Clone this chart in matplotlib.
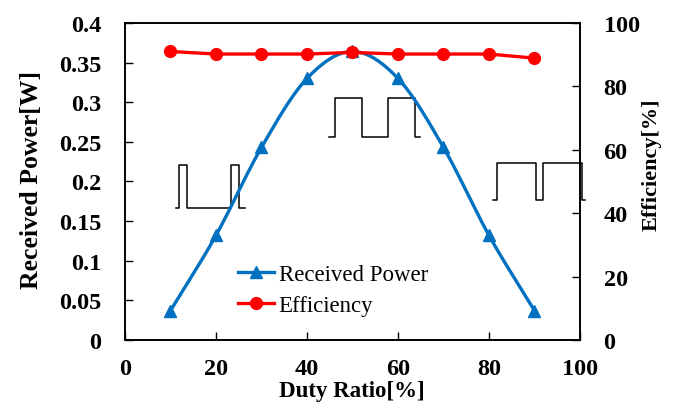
import numpy as np
import matplotlib.pyplot as plt

plt.rcParams['font.family'] = ['Liberation Serif', 'DejaVu Serif']

# data
duty = [10, 20, 30, 40, 50, 60, 70, 80, 90]
power = [0.037, 0.132, 0.243, 0.330, 0.364, 0.330, 0.243, 0.132, 0.037]
eff = [91.0, 90.2, 90.2, 90.2, 90.7, 90.2, 90.2, 90.2, 88.9]

# little PWM sketches (duty ratio ~20 %, 50 %, 80 %)
pwm_x = [
    [11.2, 11.9, 11.9, 13.6, 13.6, 23.3, 23.3, 25.1, 25.1, 26.4],
    [44.8, 46.2, 46.2, 52.1, 52.1, 57.8, 57.8, 63.7, 63.7, 64.8],
    [80.9, 81.8, 81.8, 90.3, 90.3, 91.9, 91.9, 100.4, 100.4, 101.0],
]
pwm_lo = [0.1666, 0.256, 0.1767]
pwm_hi = [0.2208, 0.305, 0.2233]


def smooth(x, y, n=20):
    # catmull-rom curve through the points, like the excel "smoothed line"
    x = np.asarray(x, float)
    y = np.asarray(y, float)
    px = np.concatenate([[2 * x[0] - x[1]], x, [2 * x[-1] - x[-2]]])
    py = np.concatenate([[2 * y[0] - y[1]], y, [2 * y[-1] - y[-2]]])
    xs, ys = [], []
    t = np.linspace(0, 1, n)
    for i in range(1, len(px) - 2):
        for p, out in ((px, xs), (py, ys)):
            p0, p1, p2, p3 = p[i - 1], p[i], p[i + 1], p[i + 2]
            out.extend(0.5 * (2 * p1 + (-p0 + p2) * t + (2 * p0 - 5 * p1 + 4 * p2 - p3) * t ** 2
                              + (-p0 + 3 * p1 - 3 * p2 + p3) * t ** 3))
    return xs, ys


fig = plt.figure(figsize=(6.77, 4.06), dpi=100)
ax = fig.add_axes([0.1846, 0.160, 0.6721, 0.781])
ax2 = ax.twinx()

blue = '#0070C0'
red = '#FF0000'

sx, sy = smooth(duty, power)
ax.plot(sx, sy, color=blue, lw=2.4)
ax.plot(duty, power, ls='none', marker='^', ms=8, color=blue)
l1, = ax.plot([], [], color=blue, lw=2.4, marker='^', ms=8, label='Received Power')

for xs, lo, hi in zip(pwm_x, pwm_lo, pwm_hi):
    lev = [lo, lo, hi, hi, lo, lo, hi, hi, lo, lo]
    ax.plot(xs, lev, color='black', lw=1.1, clip_on=False, zorder=1)

l2, = ax2.plot(duty, eff, color=red, lw=2.4, marker='o', ms=8.5, label='Efficiency')

ax.set_xlim(0, 100)
ax.set_ylim(0, 0.4)
ax2.set_ylim(0, 100)
ax.set_xticks(np.arange(0, 101, 20))
ax.set_yticks(np.arange(0, 0.401, 0.05))
ax.set_yticklabels(['0', '0.05', '0.1', '0.15', '0.2', '0.25', '0.3', '0.35', '0.4'])
ax2.set_yticks(np.arange(0, 101, 20))

for a in (ax, ax2):
    a.tick_params(direction='in', length=6, width=1, labelsize=17.5, pad=17)
    for lab in a.get_xticklabels() + a.get_yticklabels():
        lab.set_fontweight('bold')
    for s in a.spines.values():
        s.set_linewidth(1.2)
ax.tick_params(axis='x', pad=13)

ax.set_xlabel('Duty Ratio[%]', fontsize=16.5, fontweight='bold')
ax.set_ylabel('Received Power[W]', fontsize=18.5, fontweight='bold')
ax2.set_ylabel('Efficiency[%]', fontsize=16, fontweight='bold')
ax.xaxis.set_label_coords(0.499, -0.127)
ax.yaxis.set_label_coords(-0.18, 0.509)
ax2.yaxis.set_label_coords(1.135, 0.555)

ax2.legend(handles=[l1, l2], loc='upper left', bbox_to_anchor=(0.248, 0.24),
           frameon=False, fontsize=16.5, handlelength=1.6, handletextpad=0.18,
           labelspacing=0.42, borderpad=0, borderaxespad=0)

fig.savefig('out.png', dpi=100)
